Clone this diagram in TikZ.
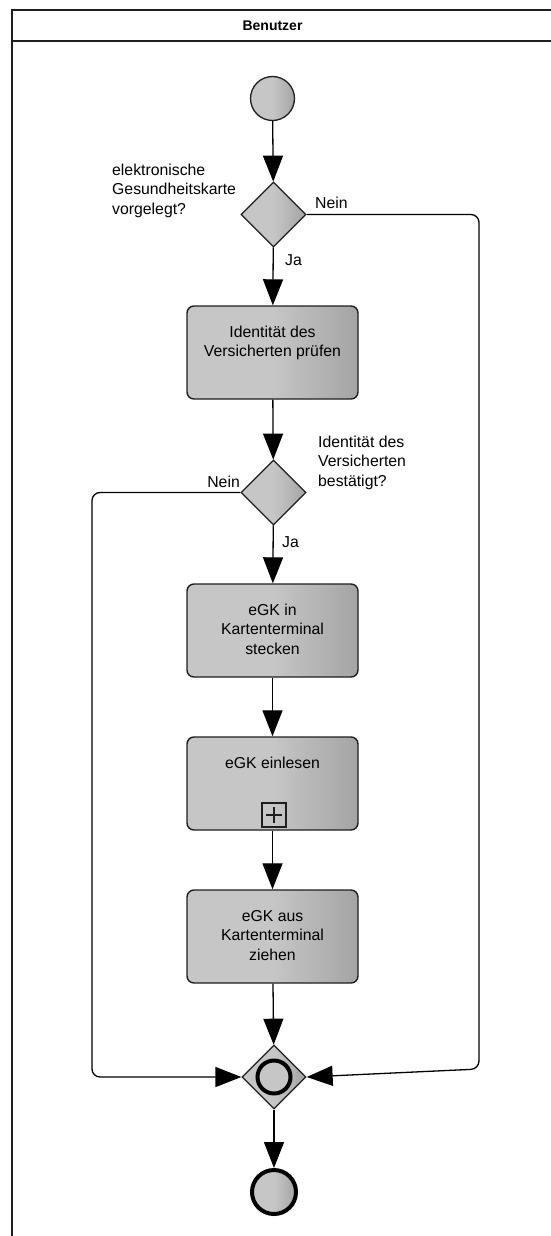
\documentclass[tikz,border=0pt]{standalone}
\usepackage{fontspec}
\setmainfont{Liberation Sans}
\usetikzlibrary{shapes.geometric,arrows.meta}
\definecolor{fillA}{RGB}{198,198,198}
\definecolor{fillB}{RGB}{164,164,164}
\definecolor{edge}{RGB}{30,30,30}

% task text: first baseline 31pt below the top edge, lines centred
\newcommand{\tasklabel}[1]{\parbox[c][93pt][t]{171pt}{\centering\rule{0pt}{31pt}#1}}

\tikzset{
  txt/.style={font=\fontsize{15.8}{19.5}\selectfont, text=black},
  shade/.style={left color=fillA, right color=fillB, middle color=fillA},
  task/.style={shape=rectangle, rounded corners=7pt, draw=edge, line width=1.4pt,
    shade, inner sep=0pt, txt},
  gateway/.style={shape=diamond, draw=edge, line width=1.3pt, shade, inner sep=0pt,
    minimum width=65pt, minimum height=65pt},
  startev/.style={shape=circle, draw=edge, line width=1.3pt, shade, inner sep=0pt,
    minimum size=44pt},
  endev/.style={shape=circle, draw=black, line width=4pt, shade, inner sep=0pt,
    minimum size=44pt},
  flow/.style={draw=black, line width=1.3pt, rounded corners=8pt,
    -{Triangle[width=20pt,length=26pt]}},
  qlabel/.style={txt, align=left, inner sep=0pt, anchor=north west},
  flowlabel/.style={txt, inner sep=0pt},
  lane/.style={draw=edge, line width=2.2pt}
}

\begin{document}
\begin{tikzpicture}[x=1pt, y=-1pt]
\path[use as bounding box] (0,0) rectangle (551,1236);

% swimlane
\draw[lane] (551,10) -- (12,10) -- (12,1236);
\draw[lane] (12,41) -- (551,41);
\node[font=\fontsize{14}{16}\selectfont\bfseries, inner sep=0pt, anchor=base] (lanehead) at (272.5,31) {Benutzer};

% events, gateways, tasks
\node[startev] (start) at (272.5,98.5) {};
\node[gateway] (d1) at (273.5,214.5) {};
\node[task] (t1) at (272.5,352.5) {\tasklabel{Identität des\\Versicherten prüfen}};
\node[gateway] (d2) at (273.5,492.5) {};
\node[task] (t2) at (272.5,630.5) {\tasklabel{eGK in\\Kartenterminal\\stecken}};
\node[task] (t3) at (272.5,783.5) {\tasklabel{eGK einlesen}};
\node[draw=edge, line width=1.2pt, minimum size=24pt, inner sep=0pt] (sub) at (274,815) {};
\draw[edge, line width=1.2pt] ([xshift=-8pt]sub.center) -- ([xshift=8pt]sub.center)
  ([yshift=-8pt]sub.center) -- ([yshift=8pt]sub.center);
\node[task] (t4) at (272.5,936.5) {\tasklabel{eGK aus\\Kartenterminal\\ziehen}};
\node[gateway, minimum width=64pt, minimum height=64pt] (gw) at (274,1077) {};
\draw[draw=black, line width=4pt, fill=fillA] (gw.center) circle[radius=16.5];
\node[endev] (end) at (274,1192) {};

% gateway questions
\node[qlabel] (q1) at (112,161.35) {\strut elektronische\\Gesundheitskarte\\vorgelegt?};
\node[qlabel] (q2) at (318,433.35) {\strut Identität des\\Versicherten\\bestätigt?};

% sequence flows
\draw[flow] (start) -- (d1);
\draw[flow] (d1) -- (t1);
\draw[flow] (t1) -- (d2);
\draw[flow] (d2) -- (t2);
\draw[flow] (t2) -- (t3);
\draw[flow] (t3) -- (t4);
\draw[flow] (t4) -- (gw);
\draw[flow] (gw) -- (end);
\draw[flow] (d1.east) -- (479,214.5) -- (479,1069) -- (gw.east);
\draw[flow] (d2.west) -- (92,492.5) -- (92,1077) -- (gw.west);

% flow labels
\node[flowlabel, anchor=base west] (n1) at (315,208) {Nein};
\node[flowlabel, anchor=base west] (j1) at (285,265) {Ja};
\node[flowlabel, anchor=base east] (n2) at (240,487) {Nein};
\node[flowlabel, anchor=base west] (j2) at (282,547) {Ja};
\end{tikzpicture}
\end{document}
